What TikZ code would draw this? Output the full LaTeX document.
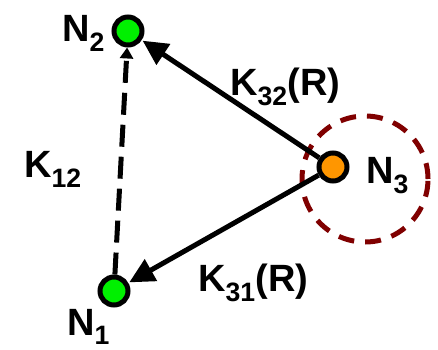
\documentclass[tikz,border=0pt]{standalone}
\usepackage{fontspec}
\setmainfont{Liberation Sans}
\usepackage{xcolor}
\usetikzlibrary{positioning,arrows.meta}
\definecolor{nodegreen}{RGB}{0,240,0}
\definecolor{nodeorange}{RGB}{255,150,0}
\definecolor{darkred}{RGB}{128,0,0}

\tikzset{
  site/.style={circle,draw=black,line width=5pt,minimum size=28pt,inner sep=0pt},
  lbl/.style={font=\bfseries\fontsize{38}{40}\selectfont,inner sep=0pt,anchor=base west},
  rate/.style={line width=5pt,-{Triangle[length=25pt,width=24pt]},shorten >=1pt},
}

\begin{document}
\begin{tikzpicture}[x=1pt,y=1pt]
  \useasboundingbox[fill=white] (0,0) rectangle (438,349);

  % neighbourhood of N3
  \draw[darkred,line width=5pt,dash pattern=on 16pt off 11pt] (365,170) circle (63);

  % sites
  \node[site,fill=nodegreen] (n2) at (128,318) {};
  \node[site,fill=nodegreen] (n1) at (114,58) {};
  \node[site,fill=nodeorange] (n3) at (333,182) {};

  % hops
  \draw[line width=5pt,dash pattern=on 22pt off 10pt,-{Triangle[length=11pt,width=13pt]}] (n1) -- (n2);
  \draw[rate] (n3) -- (n2);
  \draw[rate] (n3) -- (n1);

  % labels
  \node[lbl] (t2) at (62,308) {N\textsubscript{2}};
  \node[lbl] (t1) at (67,14) {N\textsubscript{1}};
  \node[lbl] (t3) at (366,166) {N\textsubscript{3}};
  \node[lbl] (k12) at (24,172) {K\textsubscript{12}};
  \node[lbl] (k32) at (230,254) {K\textsubscript{32}(R)};
  \node[lbl] (k31) at (198,58) {K\textsubscript{31}(R)};
\end{tikzpicture}
\end{document}
